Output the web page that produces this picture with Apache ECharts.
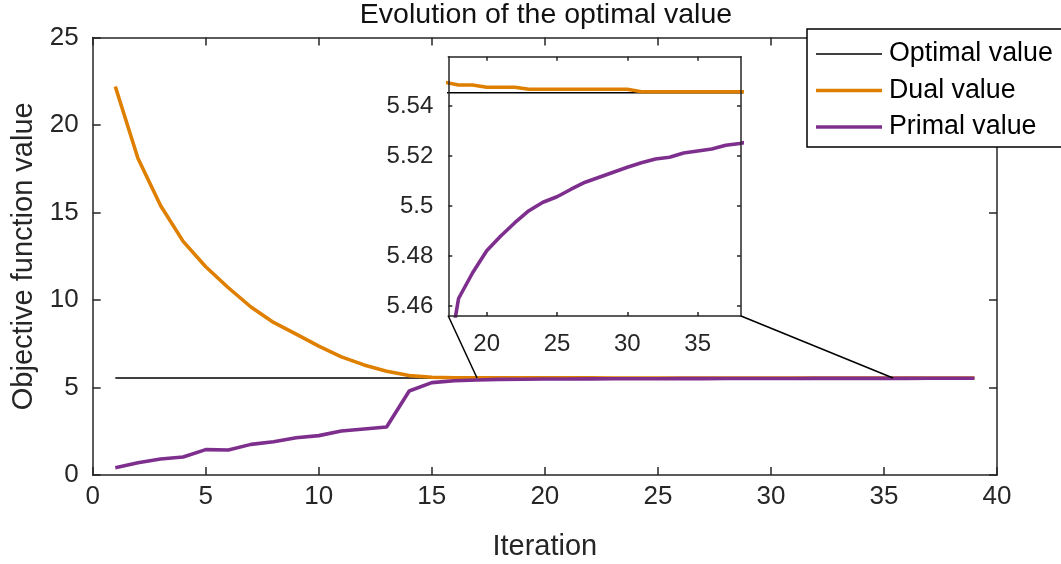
<!DOCTYPE html>
<html>
<head>
<meta charset="utf-8">
<script src="https://cdn.jsdelivr.net/npm/echarts@6/dist/echarts.min.js"></script>
<style>html,body{margin:0;padding:0;background:#fff;}#c{width:1061px;height:564px;}</style>
</head>
<body>
<div id="c"></div>
<script>
// ---- data ----
const iterations = [1,2,3,4,5,6,7,8,9,10,11,12,13,14,15,16,17,18,19,20,21,22,23,24,25,26,27,28,29,30,31,32,33,34,35,36,37,38,39];
const optimalValue = 5.5453;
const dualValues = [22.2,18.1,15.4,13.35,11.9,10.7,9.6,8.72,8.05,7.36,6.75,6.29,5.93,5.68,5.59,5.56,5.5495,5.5484,5.5484,5.5475,5.5475,5.5475,5.5467,5.5467,5.5467,5.5467,5.5467,5.5467,5.5467,5.5467,5.5457,5.5457,5.5457,5.5457,5.5457,5.5457,5.5457,5.5457,5.5457];
const primalValues = [0.42,0.70,0.91,1.03,1.45,1.43,1.75,1.9,2.13,2.25,2.51,2.63,2.74,4.8,5.28,5.39,5.43,5.463,5.4733,5.4821,5.488,5.4933,5.4981,5.5015,5.5037,5.5067,5.5095,5.5115,5.5135,5.5155,5.5173,5.5188,5.5195,5.5212,5.522,5.5228,5.5243,5.525,5.5262];
const mainXTicks = [0,5,10,15,20,25,30,35,40];
const mainYTicks = [0,5,10,15,20,25];
const insetXRange = [17.27, 38.08];
const insetYRange = [5.456, 5.5597];
const insetXTicks = [20,25,30,35];
const insetYTicks = [5.46,5.48,5.5,5.52,5.54];
const zoomAnchorX = [17, 35.4];
const seriesNames = ['Optimal value','Dual value','Primal value'];

// ---- styles ----
const FONT = '"Liberation Sans", Arial, Helvetica, sans-serif';
const AX = '#262626';
const colors = ['#000000', '#DF7F00', '#7E2F8E'];
const widths = [1.6, 3.6, 3.6];

const optimalData = iterations.map(x => [x, optimalValue]);
const dualData = iterations.map((x, i) => [x, dualValues[i]]);
const primalData = iterations.map((x, i) => [x, primalValues[i]]);
const allData = [optimalData, dualData, primalData];

function fmt(v){ return String(+(+v).toFixed(2)); }

function axisBase(extra){
  return Object.assign({
    type: 'value',
    axisLine: {show: true, onZero: false, lineStyle: {color: AX, width: 1.5}},
    splitLine: {show: false},
    axisTick: {show: true, inside: true, length: 8, lineStyle: {color: AX, width: 1.5}},
    axisLabel: {show: true, color: AX, fontFamily: FONT, fontSize: 26},
  }, extra);
}

const chart = echarts.init(document.getElementById('c'), null, {renderer: 'canvas'});

const series = [];
seriesNames.forEach((n, k) => {
  series.push({
    name: n, type: 'line', xAxisIndex: 0, yAxisIndex: 0, data: allData[k],
    symbol: 'none', showSymbol: false, silent: true, animation: false, z: 2 + k,
    lineStyle: {color: colors[k], width: widths[k]}, itemStyle: {color: colors[k]}
  });
});
seriesNames.forEach((n, k) => {
  series.push({
    name: n, type: 'line', xAxisIndex: 2, yAxisIndex: 2, data: allData[k],
    symbol: 'none', showSymbol: false, silent: true, animation: false, clip: true, z: 12 + k,
    lineStyle: {color: colors[k], width: widths[k]}, itemStyle: {color: colors[k]}
  });
});

const option = {
  backgroundColor: '#fff',
  animation: false,
  title: {
    text: 'Evolution of the optimal value',
    left: 546, top: 1, textAlign: 'center', padding: 0,
    textStyle: {fontFamily: FONT, fontSize: 28.5, fontWeight: 'normal', color: '#111'}
  },
  legend: {
    data: seriesNames.map((n, k) => ({
      name: n,
      icon: k === 0 ? 'path://M0,0H66V1.6H0Z' : 'path://M0,0H66V3.6H0Z',
      itemStyle: {color: colors[k]}
    })),
    orient: 'vertical', left: 807, top: 29,
    itemWidth: 66, itemHeight: 14, itemGap: 6.5,
    padding: [10, 30, 5, 9],
    borderColor: '#000', borderWidth: 1.5, backgroundColor: '#fff',
    selectedMode: false,
    textStyle: {fontFamily: FONT, fontSize: 26.8, color: '#000', lineHeight: 30, padding: [0,0,0,2]}
  },
  grid: [
    {left: 92.7, right: 64, top: 37.5, bottom: 89, containLabel: false, outerBoundsMode: 'none'},
    {left: 448.3, top: 56.7, width: 292.7, height: 259.3, show: true, backgroundColor: '#fff', borderWidth: 0, z: 10, containLabel: false, outerBoundsMode: 'none'}
  ],
  xAxis: [
    axisBase({gridIndex: 0, position: 'bottom', min: 0, max: 40, interval: 5,
      name: 'Iteration', nameLocation: 'middle', nameGap: 57,
      nameTextStyle: {fontFamily: FONT, fontSize: 29, color: AX},
      axisLabel: {show: true, color: AX, fontFamily: FONT, fontSize: 26, margin: 9}}),
    axisBase({gridIndex: 0, position: 'top', min: 0, max: 40, interval: 5, axisLabel: {show: false}}),
    axisBase({gridIndex: 1, position: 'bottom', min: insetXRange[0], max: insetXRange[1], z: 20,
      axisTick: {show: true, inside: true, length: 4, customValues: insetXTicks, lineStyle: {color: AX, width: 1.5}},
      axisLabel: {show: true, color: AX, fontFamily: FONT, fontSize: 24, margin: 16, customValues: insetXTicks}}),
    axisBase({gridIndex: 1, position: 'top', min: insetXRange[0], max: insetXRange[1], z: 20,
      axisTick: {show: true, inside: true, length: 4, customValues: insetXTicks, lineStyle: {color: AX, width: 1.5}},
      axisLabel: {show: false}})
  ],
  yAxis: [
    axisBase({gridIndex: 0, position: 'left', min: 0, max: 25, interval: 5,
      name: 'Objective function value', nameLocation: 'middle', nameGap: 50, nameRotate: 90,
      nameTextStyle: {fontFamily: FONT, fontSize: 29, color: AX},
      axisLabel: {show: true, color: AX, fontFamily: FONT, fontSize: 26, margin: 14}}),
    axisBase({gridIndex: 0, position: 'right', min: 0, max: 25, interval: 5, axisLabel: {show: false}}),
    axisBase({gridIndex: 1, position: 'left', min: insetYRange[0], max: insetYRange[1], z: 20,
      axisTick: {show: true, inside: true, length: 4, customValues: insetYTicks, lineStyle: {color: AX, width: 1.5}},
      axisLabel: {show: true, color: AX, fontFamily: FONT, fontSize: 24, margin: 15, customValues: insetYTicks, formatter: fmt}}),
    axisBase({gridIndex: 1, position: 'right', min: insetYRange[0], max: insetYRange[1], z: 20,
      axisTick: {show: true, inside: true, length: 4, customValues: insetYTicks, lineStyle: {color: AX, width: 1.5}},
      axisLabel: {show: false}})
  ],
  series: series
};
chart.setOption(option);

// connector lines from inset corners to the zoomed region on the main axes
const pBL = chart.convertToPixel({xAxisIndex: 2, yAxisIndex: 2}, [insetXRange[0], insetYRange[0]]);
const pBR = chart.convertToPixel({xAxisIndex: 2, yAxisIndex: 2}, [insetXRange[1], insetYRange[0]]);
const qL = chart.convertToPixel({xAxisIndex: 0, yAxisIndex: 0}, [zoomAnchorX[0], optimalValue]);
const qR = chart.convertToPixel({xAxisIndex: 0, yAxisIndex: 0}, [zoomAnchorX[1], optimalValue]);
chart.setOption({
  graphic: [
    {type: 'line', z: 50, shape: {x1: pBL[0], y1: pBL[1], x2: qL[0], y2: qL[1]}, style: {stroke: '#000', lineWidth: 1.5}},
    {type: 'line', z: 50, shape: {x1: pBR[0], y1: pBR[1], x2: qR[0], y2: qR[1]}, style: {stroke: '#000', lineWidth: 1.5}}
  ]
});
</script>
</body>
</html>
